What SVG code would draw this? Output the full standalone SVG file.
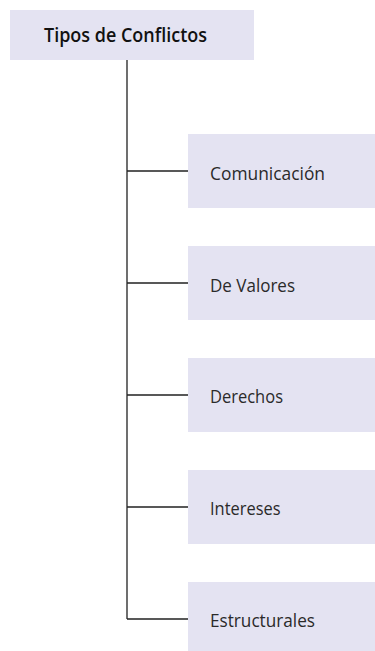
<svg xmlns="http://www.w3.org/2000/svg" width="375" height="651" viewBox="0 0 375 651">
<style>
.box{fill:#e4e3f2;}
.lbl{font-family:"Open Sans","Liberation Sans",sans-serif;font-size:19px;fill:#2a2a2a;}
.root{font-family:"Open Sans","Liberation Sans",sans-serif;font-size:19px;font-weight:600;fill:#111;}
.conn{stroke:#222;stroke-width:1.3;fill:none;}
</style>
<rect width="375" height="651" fill="#ffffff"/>
<g id="connectors">
<path class="conn" d="M127,60 V619 M127,171 H188 M127,283 H188 M127,395 H188 M127,507 H188 M127,619 H188"/>
</g>
<g id="root">
<rect class="box" x="10" y="10" width="244" height="50"/>
<text class="root" x="44" y="42" textLength="163" lengthAdjust="spacingAndGlyphs">Tipos de Conflictos</text>
</g>
<g id="comunicacion">
<rect class="box" x="188" y="134" width="187" height="74"/>
<text class="lbl" x="210" y="180" textLength="115" lengthAdjust="spacingAndGlyphs">Comunicación</text>
</g>
<g id="valores">
<rect class="box" x="188" y="246" width="187" height="74"/>
<text class="lbl" x="210" y="291.5" textLength="85" lengthAdjust="spacingAndGlyphs">De Valores</text>
</g>
<g id="derechos">
<rect class="box" x="188" y="358" width="187" height="74"/>
<text class="lbl" x="210" y="403" textLength="73" lengthAdjust="spacingAndGlyphs">Derechos</text>
</g>
<g id="intereses">
<rect class="box" x="188" y="470" width="187" height="74"/>
<text class="lbl" x="210" y="515" textLength="70.5" lengthAdjust="spacingAndGlyphs">Intereses</text>
</g>
<g id="estructurales">
<rect class="box" x="188" y="582" width="187" height="74"/>
<text class="lbl" x="210" y="627" textLength="105" lengthAdjust="spacingAndGlyphs">Estructurales</text>
</g>
</svg>
